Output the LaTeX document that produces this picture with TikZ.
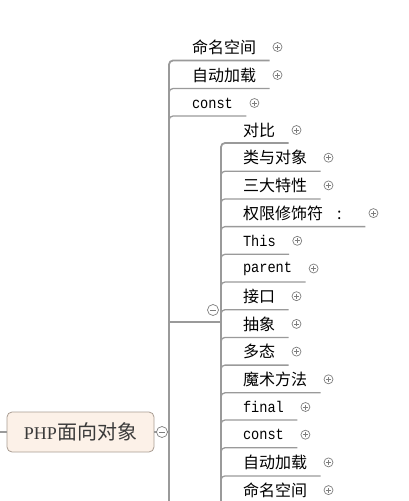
\documentclass[tikz,border=0pt]{standalone}
\usepackage{fontspec}
\usepackage{tikz}
\usetikzlibrary{positioning,calc}
\newfontfamily\cjk{Noto Sans CJK SC}
\newfontfamily\codefont[FakeStretch=0.88]{Liberation Mono}
\newfontfamily\rootlatin{Liberation Serif}
\definecolor{linegray}{HTML}{9A9A9A}
\definecolor{signgray}{HTML}{7E7E7E}
\definecolor{rootfill}{HTML}{FCF1E8}
\definecolor{rootline}{HTML}{A89C92}
\definecolor{roottext}{HTML}{3A3A3A}

\tikzset{
  topic/.style={anchor=west, inner sep=0pt, outer sep=0pt, font=\cjk\fontsize{16}{16}\selectfont},
  code/.style={anchor=west, inner sep=0pt, outer sep=0pt, font=\codefont\fontsize{15.5}{16}\selectfont},
  trunk/.style={draw=linegray, line width=1.8pt, rounded corners=4pt},
  branch/.style={draw=linegray, line width=1.3pt, rounded corners=4pt},
  expand/.style={circle, draw=signgray, fill=white, line width=0.7pt, minimum size=9pt,
    inner sep=0pt, outer sep=3.5pt,
    path picture={\draw[signgray, line width=0.7pt]
      ([xshift=-2.5pt]path picture bounding box.center) -- ([xshift=2.5pt]path picture bounding box.center)
      ([yshift=-2.5pt]path picture bounding box.center) -- ([yshift=2.5pt]path picture bounding box.center);}},
  collapse/.style={circle, draw=signgray, fill=white, line width=0.7pt, minimum size=11pt, inner sep=0pt,
    path picture={\draw[signgray, line width=0.7pt]
      ([xshift=-3pt]path picture bounding box.center) -- ([xshift=3pt]path picture bounding box.center);}},
  rootbox/.style={draw=rootline, fill=rootfill, line width=0.8pt, rounded corners=5pt,
    minimum width=147pt, minimum height=40pt, inner sep=0pt, text=roottext}
}

\begin{document}
\begin{tikzpicture}[x=1pt, y=-1pt]
  \clip (0,0) rectangle (409,501);

  % Root
  \node[rootbox] (php) at (80.5, 432) {\rootlatin\fontsize{18}{18}\selectfont PHP\cjk\fontsize{20}{20}\selectfont 面向对象};
  \draw[branch] (0, 432) -- (php.west);
  \coordinate (rootjoin) at (169, 432);
  \draw[trunk] (php.east) -- (rootjoin);
  \node[collapse] (rootfold) at (162, 432) {};

  % Main branch
  \node[topic] (ns) at (192, 47) {命名空间};
  \node[expand, right=13.5pt of ns] (nsp) {};
  \draw[trunk] (169, 501) |- ($(nsp.west)+(0,13.5)$);

  \node[topic] (autoload) at (192, 75) {自动加载};
  \node[expand, right=13.5pt of autoload] (autoloadp) {};
  \draw[branch] (169, 95) |- ($(autoloadp.west)+(0,13.5)$);

  \node[code] (const) at (192, 103) {const};
  \node[expand, right=13.5pt of const] (constp) {};
  \draw[branch] (169, 122) |- ($(constp.west)+(0,13)$);

  % Sub branch
  \coordinate (split) at (221, 322);
  \draw[trunk] (169, 322) -- (split);
  \node[collapse] (subfold) at (213, 310) {};

  \node[topic] (compare) at (243, 130) {对比};
  \node[expand, right=13.5pt of compare] (comparep) {};
  \draw[trunk] (221, 501) |- ($(comparep.west)+(0,13)$);

  \node[topic] (classobj) at (243, 157.7) {类与对象};
  \node[expand, right=13.5pt of classobj] (classobjp) {};
  \draw[branch] (221, 177) |- ($(classobjp.west)+(0,13.5)$);

  \node[topic] (traits) at (243, 185.4) {三大特性};
  \node[expand, right=13.5pt of traits] (traitsp) {};
  \draw[branch] (221, 205) |- ($(traitsp.west)+(0,13.5)$);

  \node[topic] (access) at (243, 213.1) {权限修饰符\hspace{14pt}:};
  \node[expand, right=24pt of access] (accessp) {};
  \draw[branch] (221, 232) |- ($(accessp.west)+(0,13.5)$);

  \node[code] (this) at (243, 240.8) {This};
  \node[expand, right=13.5pt of this] (thisp) {};
  \draw[branch] (221, 260) |- ($(thisp.west)+(0,13.5)$);

  \node[code] (parent) at (243, 268.5) {parent};
  \node[expand, right=13.5pt of parent] (parentp) {};
  \draw[branch] (221, 288) |- ($(parentp.west)+(0,13.5)$);

  \node[topic] (iface) at (243, 296.2) {接口};
  \node[expand, right=13.5pt of iface] (ifacep) {};
  \draw[branch] (221, 315) |- ($(ifacep.west)+(0,13.5)$);

  \node[topic] (abstract) at (243, 323.9) {抽象};
  \node[expand, right=13.5pt of abstract] (abstractp) {};
  \draw[branch] (221, 343) |- ($(abstractp.west)+(0,13.5)$);

  \node[topic] (poly) at (243, 351.6) {多态};
  \node[expand, right=13.5pt of poly] (polyp) {};
  \draw[branch] (221, 371) |- ($(polyp.west)+(0,13.5)$);

  \node[topic] (magic) at (243, 379.3) {魔术方法};
  \node[expand, right=13.5pt of magic] (magicp) {};
  \draw[branch] (221, 398) |- ($(magicp.west)+(0,13.5)$);

  \node[code] (final) at (243, 407) {final};
  \node[expand, right=13.5pt of final] (finalp) {};
  \draw[branch] (221, 426) |- ($(finalp.west)+(0,13)$);

  \node[code] (const2) at (243, 434.7) {const};
  \node[expand, right=13.5pt of const2] (const2p) {};
  \draw[branch] (221, 454) |- ($(const2p.west)+(0,13)$);

  \node[topic] (autoload2) at (243, 462.4) {自动加载};
  \node[expand, right=13.5pt of autoload2] (autoload2p) {};
  \draw[branch] (221, 481) |- ($(autoload2p.west)+(0,13.5)$);

  \node[topic] (ns2) at (243, 490.1) {命名空间};
  \node[expand, right=13.5pt of ns2] (ns2p) {};
  \draw[branch] (221, 509) |- ($(ns2p.west)+(0,13.5)$);
\end{tikzpicture}
\end{document}
